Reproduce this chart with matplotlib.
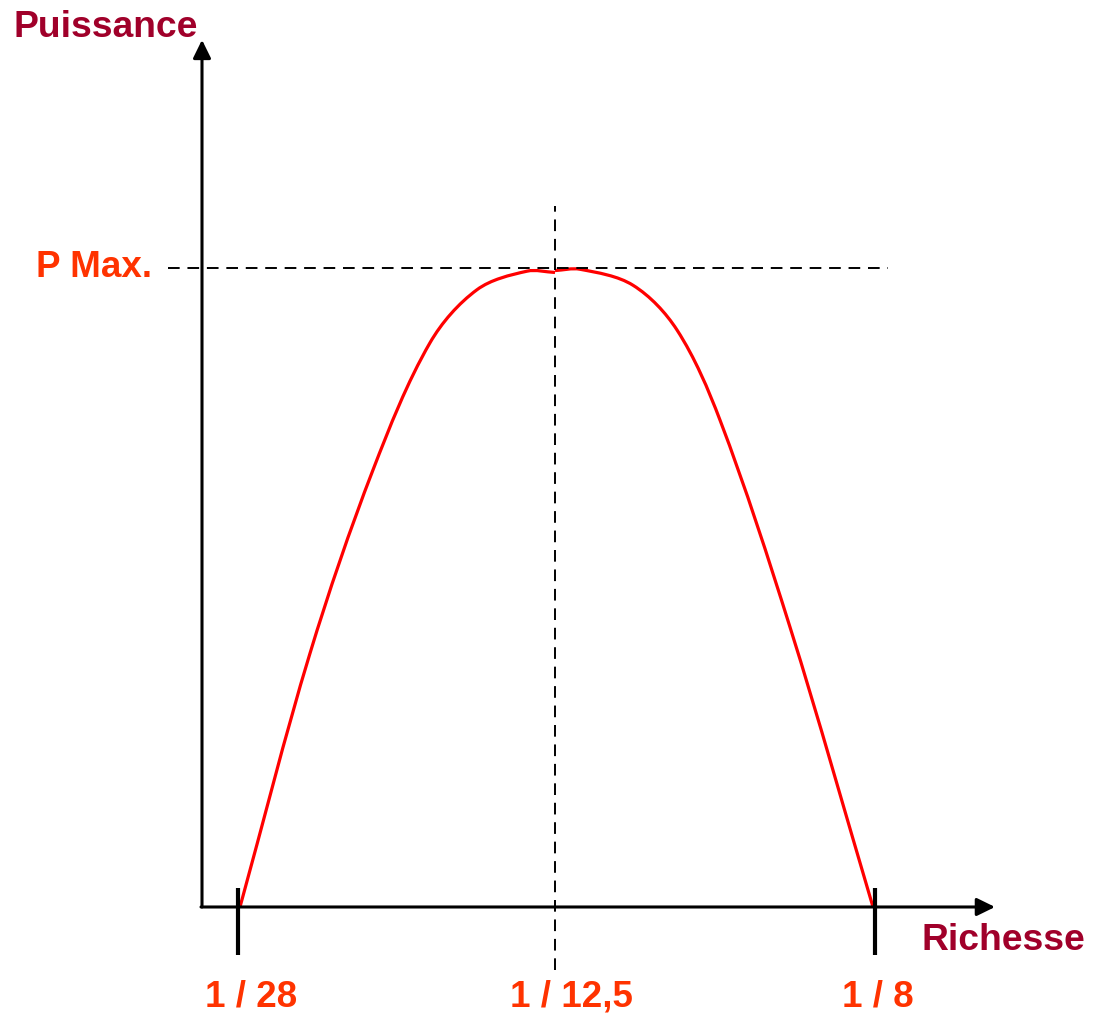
import matplotlib
matplotlib.use("Agg")
import matplotlib.pyplot as plt
from matplotlib.path import Path
from matplotlib.patches import PathPatch
import numpy as np

# ---- data (richness position, power in % of P max) ----
richesse_left = [38, 108, 171, 228, 275, 325, 353]
puissance_left = [0, 39.7, 68.4, 88.3, 96.6, 99.5, 99.3]
richesse_right = [353, 378, 431, 475, 518, 588, 671]
puissance_right = [99.6, 99.8, 97.3, 90.3, 76.2, 43.8, 0]

tick_positions = [36, 353, 673]          # 1/28, 1/12.5, 1/8
tick_labels = ["1 / 28", "1 / 12,5", "1 / 8"]
p_max = 100
x_axis_end = 793
y_axis_end = 135.7

RED = "#FF0000"
ORANGE = "#FF3300"
WINE = "#A0002A"

plt.rcParams['font.family'] = ['Liberation Sans', 'DejaVu Sans']

fig = plt.figure(figsize=(10.95, 10.16), dpi=100)
ax = fig.add_axes([0, 0, 1, 1])
ax.set_xlim(-202, 893)
ax.set_ylim(-17.06, 141.94)
ax.axis('off')


def smooth_path(xs, ys):
    """Chord-length Catmull-Rom curve through the data points (display space)."""
    pts = ax.transData.transform(np.column_stack([xs, ys]).astype(float))
    n = len(pts)
    t = np.concatenate([[0], np.cumsum(np.linalg.norm(np.diff(pts, axis=0), axis=1))])
    tang = np.zeros_like(pts)
    for i in range(n):
        a = max(i - 1, 0)
        b = min(i + 1, n - 1)
        tang[i] = (pts[b] - pts[a]) / (t[b] - t[a])
    verts = [pts[0]]
    codes = [Path.MOVETO]
    for i in range(n - 1):
        h = t[i + 1] - t[i]
        verts += [pts[i] + tang[i] * h / 3.0, pts[i + 1] - tang[i + 1] * h / 3.0, pts[i + 1]]
        codes += [Path.CURVE4] * 3
    inv = ax.transData.inverted()
    return Path(inv.transform(np.array(verts)), codes)


# axes with arrows
arrow_kw = dict(arrowstyle='-|>,head_length=0.55,head_width=0.27', lw=2.2,
                color='black', mutation_scale=20, shrinkA=0, shrinkB=0)
ax.annotate('', xy=(0, y_axis_end), xytext=(0, 0), arrowprops=arrow_kw)
ax.annotate('', xy=(x_axis_end, 0), xytext=(-1, 0), arrowprops=arrow_kw)

# dashed guides
ax.plot([-34, 686], [p_max, p_max], color='black', lw=1.4, ls=(0, (6, 4)))
ax.plot([tick_positions[1]] * 2, [-9.9, 109.7], color='black', lw=1.4, ls=(0, (6, 4)))

# power curve
for xs, ys in ((richesse_left, puissance_left), (richesse_right, puissance_right)):
    ax.add_patch(PathPatch(smooth_path(xs, ys), facecolor='none', edgecolor=RED,
                           lw=2.3, capstyle='butt', joinstyle='round'))

# end ticks
for xp in (tick_positions[0], tick_positions[2]):
    ax.plot([xp, xp], [2.9, -7.5], color='black', lw=3.0, solid_capstyle='butt')

# tick labels
label_x = [3, 308, 640]
for lx, lab in zip(label_x, tick_labels):
    ax.text(lx, -14.1, lab, color=ORANGE, fontsize=26.5, fontweight='bold',
            ha='left', va='center')

ax.text(-166, p_max, "P Max.", color=ORANGE, fontsize=26.5, fontweight='bold',
        ha='left', va='center')
ax.text(-188, 137.6, "Puissance", color=WINE, fontsize=26.8, fontweight='bold',
        ha='left', va='center')
ax.text(720, -5.3, "Richesse", color=WINE, fontsize=26.8, fontweight='bold',
        ha='left', va='center')

fig.savefig("out.png", dpi=100)
